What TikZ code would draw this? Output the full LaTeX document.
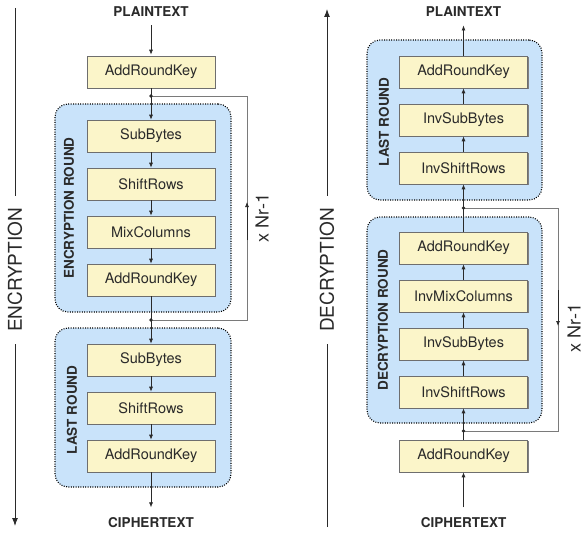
\documentclass[tikz,border=0pt]{standalone}
\usepackage{fontspec}
\setmainfont{TeX Gyre Heros}
\usetikzlibrary{arrows.meta,shadows}
\definecolor{opfill}{HTML}{FBF5C9}
\definecolor{rndfill}{HTML}{C9E3FA}
\definecolor{opdraw}{HTML}{6E6E6E}
\definecolor{ink}{HTML}{2A2A2A}
\definecolor{loopc}{HTML}{7A7A7A}
\tikzset{
  opbox/.style={draw=opdraw, fill=opfill, line width=0.6pt, minimum width=128pt, minimum height=32pt,
    font=\fontsize{14.5}{14.5}\selectfont, text=ink,
    drop shadow={shadow xshift=1.3pt, shadow yshift=-1.3pt, fill=black!50, opacity=1}},
  rndbox/.style={draw=black, fill=rndfill, rounded corners=13pt, line width=1.1pt,
    dash pattern=on 1pt off 1.4pt},
  rndlabel/.style={rotate=90, font=\bfseries\fontsize{13.5}{13.5}\selectfont, text=ink},
  endlabel/.style={font=\bfseries\fontsize{13.5}{13.5}\selectfont, text=ink},
  flow/.style={draw=ink, line width=0.7pt, -{Latex[length=5pt,width=4pt]}},
  loopline/.style={draw=loopc, line width=0.7pt},
  looparrow/.style={draw=ink, line width=0.7pt, -{Latex[length=5pt,width=4pt]}},
  sidelabel/.style={rotate=90, fill=white, inner xsep=12pt, inner ysep=1pt, font=\fontsize{19}{19}\selectfont, text=ink},
  nrlabel/.style={rotate=90, font=\fontsize{18}{18}\selectfont, text=ink},
  bigarrow/.style={draw=ink, line width=1pt, -{Latex[length=8pt,width=6pt]}},
}
\begin{document}
\begin{tikzpicture}[x=1pt,y=-1pt]
\useasboundingbox (0,0) rectangle (588,535);

% ---------------- ENCRYPTION ----------------
\draw[bigarrow] (15,8) -- (15,526);
\node[sidelabel] (enc) at (15,270) {ENCRYPTION};

\node[rndbox, minimum width=176pt, minimum height=208pt] (erbox) at (143,208) {};
\node[rndbox, minimum width=176pt, minimum height=159pt] (elbox) at (143,407.5) {};

\node[endlabel] (ept) at (151,12) {PLAINTEXT};
\node[opbox] (eark0) at (151,72) {AddRoundKey};
\node[opbox] (esb1) at (151,136) {SubBytes};
\node[opbox] (esr1) at (151,184) {ShiftRows};
\node[opbox] (emc1) at (151,232) {MixColumns};
\node[opbox] (eark1) at (151,280) {AddRoundKey};
\node[opbox] (esb2) at (151,360) {SubBytes};
\node[opbox] (esr2) at (151,408) {ShiftRows};
\node[opbox] (eark2) at (151,456) {AddRoundKey};
\node[endlabel] (ect) at (151,523) {CIPHERTEXT};

\node[rndlabel] (erl) at (69,208) {ENCRYPTION ROUND};
\node[rndlabel] (ell) at (72,410) {LAST ROUND};

\coordinate (ed1) at (151,96);
\coordinate (ed2) at (151,320);
\coordinate (ec1) at (247,96);
\coordinate (ec2) at (247,320);
\draw[loopline] (ed1) -- (ec1) -- (ec2) -- (ed2);
\draw[looparrow] (247,240) -- (247,202);
\node[nrlabel] (enr) at (262,218) {x Nr-1};

\draw[flow, shorten <=5pt, shorten >=1pt] (ept) -- (eark0);
\draw[flow] (eark0) -- (esb1);
\draw[flow] (esb1) -- (esr1);
\draw[flow] (esr1) -- (emc1);
\draw[flow] (emc1) -- (eark1);
\draw[flow] (eark1) -- (esb2);
\draw[flow] (esb2) -- (esr2);
\draw[flow] (esr2) -- (eark2);
\draw[flow, shorten >=7pt] (eark2) -- (ect);
\fill[ink] (ed1) circle (1.8pt);
\fill[ink] (ed2) circle (1.8pt);

% ---------------- DECRYPTION ----------------
\draw[bigarrow] (327,527) -- (327,9);
\node[sidelabel] (dec) at (327,270) {DECRYPTION};

\node[rndbox, minimum width=175pt, minimum height=160pt] (dlbox) at (454.5,120) {};
\node[rndbox, minimum width=175pt, minimum height=206pt] (drbox) at (454.5,320) {};

\node[endlabel] (dpt) at (463.5,12) {PLAINTEXT};
\node[opbox] (dark2) at (463.5,72) {AddRoundKey};
\node[opbox] (dsb2) at (463.5,120) {InvSubBytes};
\node[opbox] (dsr2) at (463.5,168) {InvShiftRows};
\node[opbox] (dark1) at (463.5,248) {AddRoundKey};
\node[opbox] (dmc1) at (463.5,296) {InvMixColumns};
\node[opbox] (dsb1) at (463.5,344) {InvSubBytes};
\node[opbox] (dsr1) at (463.5,392) {InvShiftRows};
\node[opbox] (dark0) at (463.5,456) {AddRoundKey};
\node[endlabel] (dct) at (463.5,523) {CIPHERTEXT};

\node[rndlabel] (dll) at (384,122) {LAST ROUND};
\node[rndlabel] (drl) at (383,320) {DECRYPTION ROUND};

\coordinate (dd1) at (463.5,208);
\coordinate (dd2) at (463.5,431);
\coordinate (dc1) at (558,208);
\coordinate (dc2) at (558,431);
\draw[loopline] (dd1) -- (dc1) -- (dc2) -- (dd2);
\draw[looparrow] (558,290) -- (558,326);
\node[nrlabel] (dnr) at (574,328) {x Nr-1};

\draw[flow, shorten <=7pt] (dct) -- (dark0);
\draw[flow] (dark0) -- (dsr1);
\draw[flow] (dsr1) -- (dsb1);
\draw[flow] (dsb1) -- (dmc1);
\draw[flow] (dmc1) -- (dark1);
\draw[flow] (dark1) -- (dsr2);
\draw[flow] (dsr2) -- (dsb2);
\draw[flow] (dsb2) -- (dark2);
\draw[flow, shorten >=5pt] (dark2) -- (dpt);
\fill[ink] (dd1) circle (1.8pt);
\fill[ink] (dd2) circle (1.8pt);
\end{tikzpicture}
\end{document}
